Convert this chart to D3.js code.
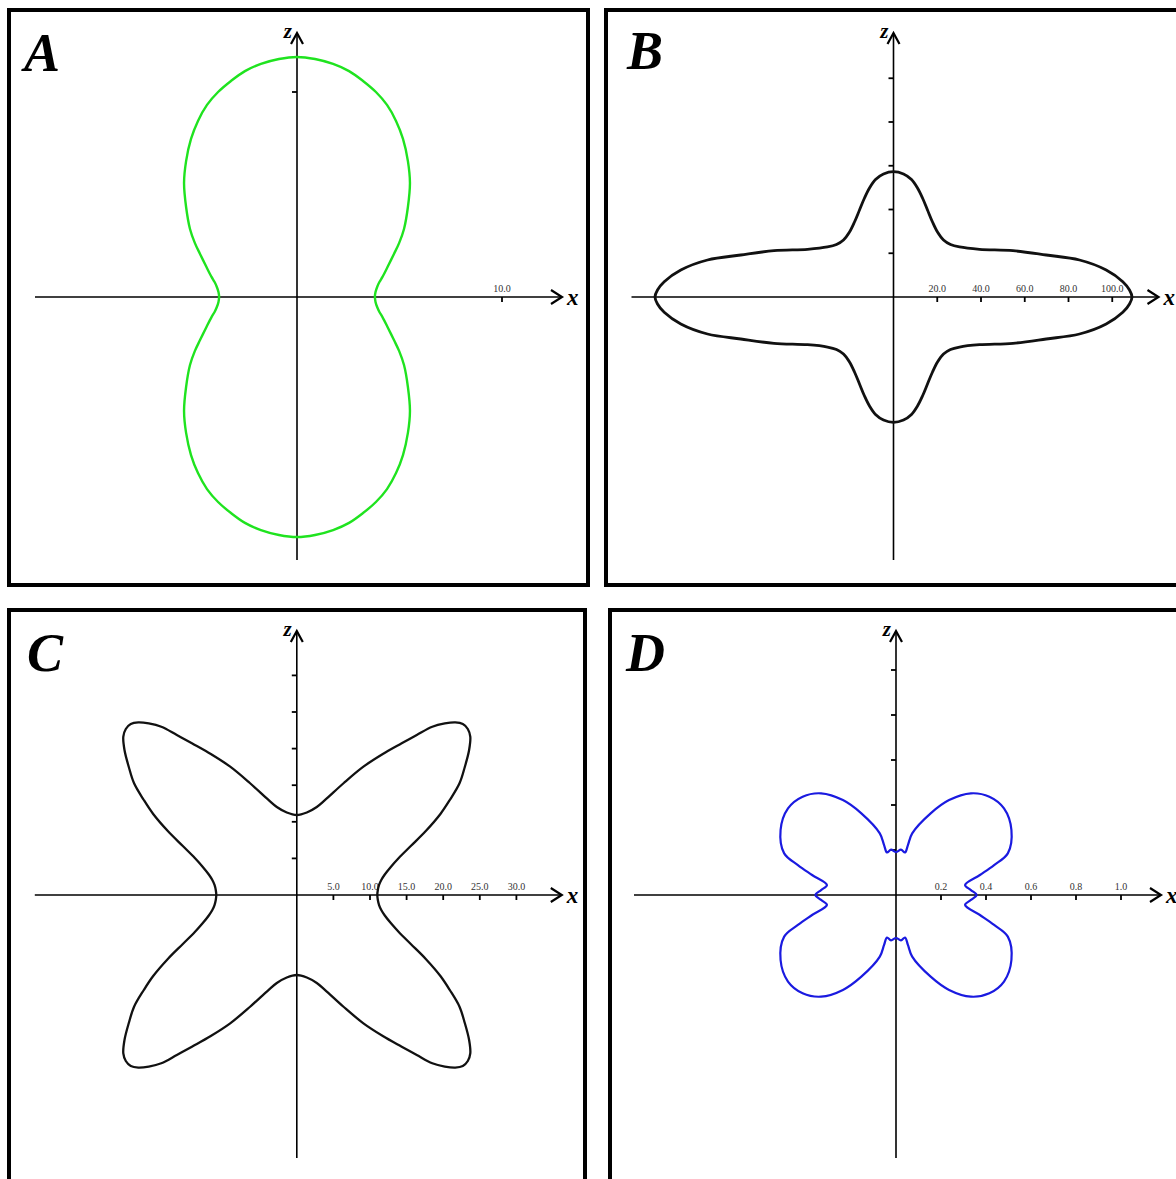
<!DOCTYPE html>
<html>
<head>
<meta charset="utf-8">
<script src="https://cdn.jsdelivr.net/npm/d3@7"></script>
<style>
  html, body { margin: 0; padding: 0; background: #fff; }
  svg { display: block; }
</style>
</head>
<body>
<svg id="fig" width="1176" height="1179"></svg>
<script>
// First-quadrant traces of each pattern (x >= 0, z >= 0), ordered from the +z axis
// round to the +x axis. The other three quadrants are their mirror images.
const aX = [0, 0.88, 1.76, 2.54, 3.22, 3.85, 4.39, 4.83, 5.17, 5.41, 5.51, 5.41, 5.22, 4.98, 4.73, 4.44, 4.17, 4.02, 3.91, 3.83, 3.80];
const aZ = [11.71, 11.61, 11.37, 11.02, 10.54, 10.0, 9.37, 8.59, 7.71, 6.63, 5.56, 4.39, 3.32, 2.63, 2.10, 1.51, 0.98, 0.73, 0.49, 0.24, 0];

const bX = [0, 4.57, 8.23, 10.97, 13.26, 15.54, 17.83, 20.11, 22.86, 26.06, 30.17, 39.31, 54.63, 69.81, 85.03, 97.23, 104.82, 107.89, 109.03];
const bZ = [57.28, 56.23, 53.71, 49.83, 45.26, 39.77, 34.29, 29.71, 26.06, 24.0, 22.86, 21.81, 21.17, 19.20, 16.91, 12.34, 6.99, 3.2, 0];

const cX = [0, 1.37, 2.73, 3.87, 6.42, 9.10, 11.75, 14.33, 16.39, 18.51, 20.22, 21.65, 22.68, 23.36, 23.70, 23.54, 22.95, 22.23, 20.90, 19.62, 17.62, 15.57, 13.93, 12.84, 12.02, 11.54, 11.24, 11.07, 11.0];
const cZ = [10.93, 11.27, 12.02, 12.98, 15.30, 17.53, 19.26, 20.72, 21.86, 22.99, 23.43, 23.57, 23.36, 22.68, 21.63, 19.81, 17.49, 15.26, 12.98, 11.07, 8.74, 6.69, 5.05, 3.83, 2.80, 2.05, 1.37, 0.68, 0];

const dX = [0, 0.022, 0.040, 0.053, 0.072, 0.154, 0.236, 0.333, 0.415, 0.480, 0.513, 0.497, 0.436, 0.373, 0.307, 0.333, 0.358];
const dZ = [0.191, 0.202, 0.189, 0.222, 0.274, 0.363, 0.422, 0.452, 0.437, 0.385, 0.289, 0.185, 0.133, 0.089, 0.044, 0.022, 0];

// Axis ticks (only the x ticks carry labels)
const aTicksX = [10], aTicksZ = [10];
const bTicksX = [20, 40, 60, 80, 100], bTicksZ = [20, 40, 60, 80, 100];
const cTicksX = [5, 10, 15, 20, 25, 30], cTicksZ = [5, 10, 15, 20, 25, 30];
const dTicksX = [0.2, 0.4, 0.6, 0.8, 1.0], dTicksZ = [0.2, 0.4, 0.6, 0.8, 1.0];

const panelLetters = ["A", "B", "C", "D"];
const axisNames = ["x", "z"];

// Layout of the four framed panels
const panels = [
  { letter: panelLetters[0], xs: aX, zs: aZ, tx: aTicksX, tz: aTicksZ, frame: [9, 10, 579],   ox: 297,   oz: 297, ux: 10,  px: 205,    letterPos: [24, 71],  color: "#1fe31f", width: 2.4 },
  { letter: panelLetters[1], xs: bX, zs: bZ, tx: bTicksX, tz: bTicksZ, frame: [606, 10, 600], ox: 893.5, oz: 297, ux: 100, px: 218.75, letterPos: [627, 69], color: "#111",    width: 2.8 },
  { letter: panelLetters[2], xs: cX, zs: cZ, tx: cTicksX, tz: cTicksZ, frame: [9, 610, 576],  ox: 296.8, oz: 895, ux: 30,  px: 219.6,  letterPos: [27, 671], color: "#111",    width: 2.3 },
  { letter: panelLetters[3], xs: dX, zs: dZ, tx: dTicksX, tz: dTicksZ, frame: [610, 610, 600], ox: 896,  oz: 895, ux: 1,   px: 225,    letterPos: [626, 671], color: "#1a1ae0", width: 2.2 }
];

const svg = d3.select("#fig");
svg.append("rect").attr("width", 1176).attr("height", 1179).attr("fill", "#fff");

// Build the closed outline from one quadrant by reflection in both axes
function fullLoop(xs, zs) {
  const q1 = xs.map((x, i) => [x, zs[i]]);
  const n = q1.length;
  const q4 = q1.slice(0, n - 1).reverse().map(([x, z]) => [x, -z]);
  const q3 = q1.slice(1).map(([x, z]) => [-x, -z]);
  const q2 = q1.slice(1, n - 1).reverse().map(([x, z]) => [-x, z]);
  return q1.concat(q4, q3, q2);
}

const fmt = d3.format(".1f");

panels.forEach(p => {
  const g = svg.append("g");

  // panel frame (right / bottom edges run past the page)
  g.append("rect")
    .attr("x", p.frame[0]).attr("y", p.frame[1])
    .attr("width", p.frame[2]).attr("height", 575)
    .attr("fill", "none").attr("stroke", "#000").attr("stroke-width", 4);

  const x = d3.scaleLinear().domain([0, p.ux]).range([p.ox, p.ox + p.px]);
  const z = d3.scaleLinear().domain([0, p.ux]).range([p.oz, p.oz - p.px]);

  const left = p.ox - 262, tipX = p.ox + 265;
  const bottom = p.oz + 263, tipZ = p.oz - 264;

  // axes
  g.append("line").attr("x1", left).attr("x2", tipX).attr("y1", p.oz).attr("y2", p.oz)
    .attr("stroke", "#000").attr("stroke-width", 1.6);
  g.append("line").attr("x1", p.ox).attr("x2", p.ox).attr("y1", bottom).attr("y2", tipZ)
    .attr("stroke", "#000").attr("stroke-width", 1.6);

  // open arrowheads
  g.append("path")
    .attr("d", `M${tipX - 11},${p.oz - 7}L${tipX},${p.oz}L${tipX - 11},${p.oz + 7}`)
    .attr("fill", "none").attr("stroke", "#000").attr("stroke-width", 2.2);
  g.append("path")
    .attr("d", `M${p.ox - 6},${tipZ + 11}L${p.ox},${tipZ}L${p.ox + 6},${tipZ + 11}`)
    .attr("fill", "none").attr("stroke", "#000").attr("stroke-width", 2.2);

  // axis names
  g.append("text").attr("x", tipX + 5).attr("y", p.oz + 8)
    .attr("font-family", "Liberation Serif, serif").attr("font-weight", "bold")
    .attr("font-style", "italic").attr("font-size", 23).attr("fill", "#000")
    .text(axisNames[0]);
  g.append("text").attr("x", p.ox - 5).attr("y", tipZ + 5)
    .attr("text-anchor", "end")
    .attr("font-family", "Liberation Serif, serif").attr("font-weight", "bold")
    .attr("font-style", "italic").attr("font-size", 21).attr("fill", "#000")
    .text(axisNames[1]);

  // x ticks with labels
  g.selectAll(".tx").data(p.tx).join("line")
    .attr("x1", d => x(d)).attr("x2", d => x(d))
    .attr("y1", p.oz).attr("y2", p.oz + 5)
    .attr("stroke", "#000").attr("stroke-width", 1.8);
  g.selectAll(".tl").data(p.tx).join("text")
    .attr("x", d => x(d)).attr("y", p.oz - 5)
    .attr("text-anchor", "middle")
    .attr("font-family", "Liberation Serif, serif").attr("font-size", 10)
    .attr("fill", "#333")
    .text(d => fmt(d));

  // z ticks
  g.selectAll(".tz").data(p.tz).join("line")
    .attr("x1", p.ox - 5).attr("x2", p.ox)
    .attr("y1", d => z(d)).attr("y2", d => z(d))
    .attr("stroke", "#000").attr("stroke-width", 1.8);

  // pattern outline
  const line = d3.line()
    .x(d => x(d[0])).y(d => z(d[1]))
    .curve(d3.curveCatmullRomClosed.alpha(0.5));
  g.append("path")
    .attr("d", line(fullLoop(p.xs, p.zs)))
    .attr("fill", "none").attr("stroke", p.color)
    .attr("stroke-width", p.width).attr("stroke-linejoin", "round");

  // panel letter
  g.append("text").attr("x", p.letterPos[0]).attr("y", p.letterPos[1])
    .attr("font-family", "Liberation Serif, serif").attr("font-weight", "bold")
    .attr("font-style", "italic").attr("font-size", 54).attr("fill", "#000")
    .text(p.letter);
});
</script>
</body>
</html>
